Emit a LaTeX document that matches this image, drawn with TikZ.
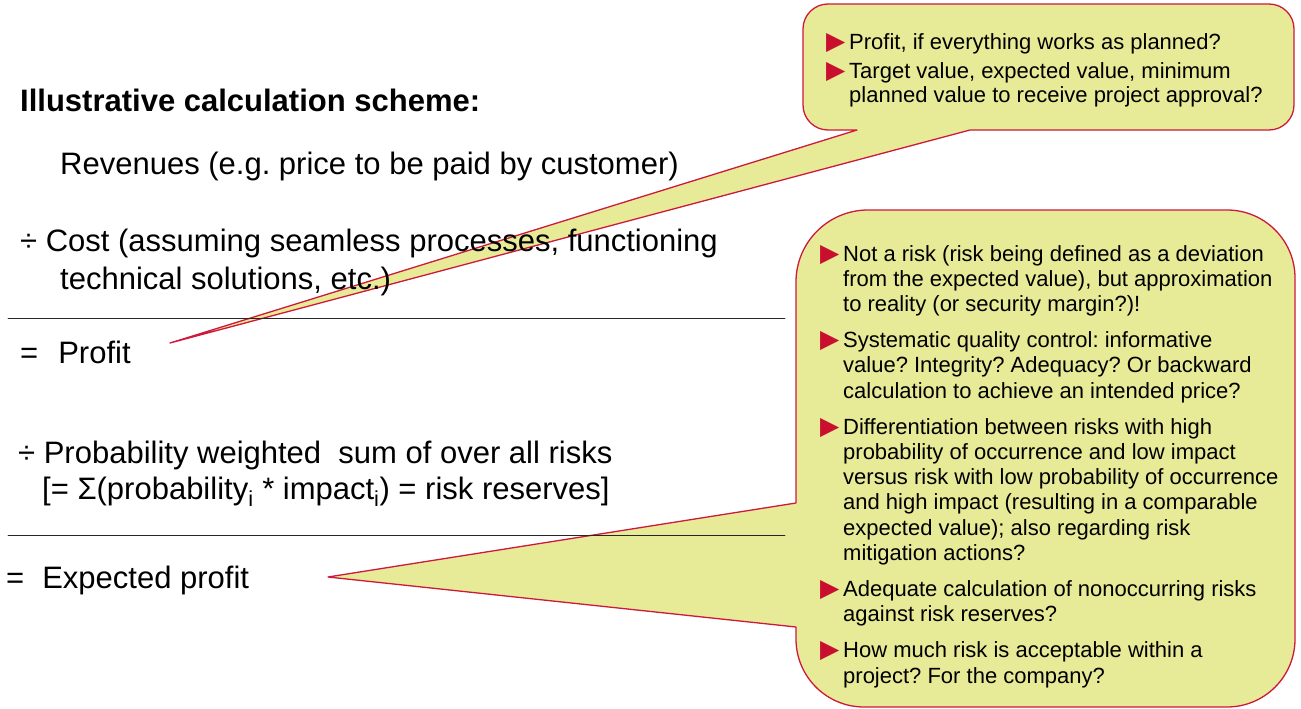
\documentclass[tikz,border=0pt]{standalone}
\usepackage{fontspec}
\setmainfont{Liberation Sans}
\newfontfamily\symbolfont{DejaVu Sans}
\usepackage{tikz}
\usetikzlibrary{positioning}
\usepackage{color}

\definecolor{calloutfill}{RGB}{231,234,150}
\definecolor{calloutline}{RGB}{206,24,60}
\definecolor{bulletred}{RGB}{200,16,46}

\newcommand{\redbullet}{\textcolor{bulletred}{\symbolfont\fontsize{25}{25}\selectfont ▶}}
\newcommand{\noteitem}[1]{\par\noindent\hangindent=#1\hangafter=1\makebox[#1][l]{\redbullet}}

\begin{document}
\begin{tikzpicture}
			[x=1pt,y=-1pt,line cap=round,
			%Styles
			scheme text/.style={anchor=base west,inner sep=0pt,font=\fontsize{31}{38}\selectfont},
			rule line/.style={black!85,line width=0.9pt},
			callout/.style={fill=calloutfill,draw=calloutline,line width=1.3pt,line join=round},
			note text/.style={anchor=base west,inner sep=0pt}
			]
			
			\useasboundingbox (0,0) rectangle (1301,709);
			
			%Tips of the callouts
			\coordinate (profittip) at (170,343);
			\coordinate (expectedtip) at (328,577);
			
			%The callouts
			\draw[callout] (1150,4) [rounded corners=25pt] -- (803,4) -- (803,130)
				[sharp corners] -- (857,130) -- (profittip) -- (970,130)
				[rounded corners=25pt] -- (1294,130) -- (1294,4) -- cycle;
			\draw[callout] (1100,210) [rounded corners=72pt] -- (796,210)
				[sharp corners] -- (796,503) -- (expectedtip) -- (796,627)
				[rounded corners=68pt] -- (796,707) -- (1295,707) -- (1295,210) -- cycle;
			
			%The graphic
			\node[scheme text,font=\fontsize{31}{38}\selectfont\bfseries] (title) at (20,111) {Illustrative calculation scheme:};
			\node[scheme text] (revenues) at (60,174) {Revenues (e.g.\ price to be paid by customer)};
			\node[scheme text] (cost) at (20,251) {÷ Cost (assuming seamless processes, functioning};
			\node[scheme text] (costmore) at (60,289) {technical solutions, etc.)};
			\draw[rule line] (8,318) -- (785,318);
			\node[scheme text] (profit) at (20,363) {=\hspace{20pt}Profit};
			\node[scheme text] (riskcost) at (18,463) {÷ Probability weighted~ sum of over all risks};
			\node[scheme text] (reserves) at (42,499) {[= Σ(probability\textsubscript{i} * impact\textsubscript{i}) = risk reserves]};
			\draw[rule line] (8,535) -- (785,535);
			\node[scheme text] (expected) at (6,588) {=\hspace{18pt}Expected profit};
			
			%Notes in the callouts
			\node[note text] (profitnotes) at (826,49) {\parbox[t]{470pt}{\fontsize{22}{25}\selectfont\frenchspacing\parskip=4pt
				\noteitem{23pt}Profit, if everything works as planned?
				\noteitem{23pt}Target value, expected value, minimum\newline planned value to receive project approval?\par}};
			\node[note text] (risknotes) at (820,261) {\parbox[t]{480pt}{\fontsize{22}{25.2}\selectfont\frenchspacing\parskip=11pt
				\noteitem{23pt}Not a risk (risk being defined as a deviation\newline from the expected value), but approximation\newline to reality (or security margin?)!
				\noteitem{23pt}Systematic quality control: informative\newline value? Integrity? Adequacy? Or backward\newline calculation to achieve an intended price?
				\noteitem{23pt}Differentiation between risks with high\newline probability of occurrence and low impact\newline versus risk with low probability of occurrence\newline and high impact (resulting in a comparable\newline expected value); also regarding risk\newline mitigation actions?
				\noteitem{23pt}Adequate calculation of nonoccurring risks\newline against risk reserves?
				\noteitem{23pt}How much risk is acceptable within a\newline project? For the company?\par}};
		\end{tikzpicture}
\end{document}
